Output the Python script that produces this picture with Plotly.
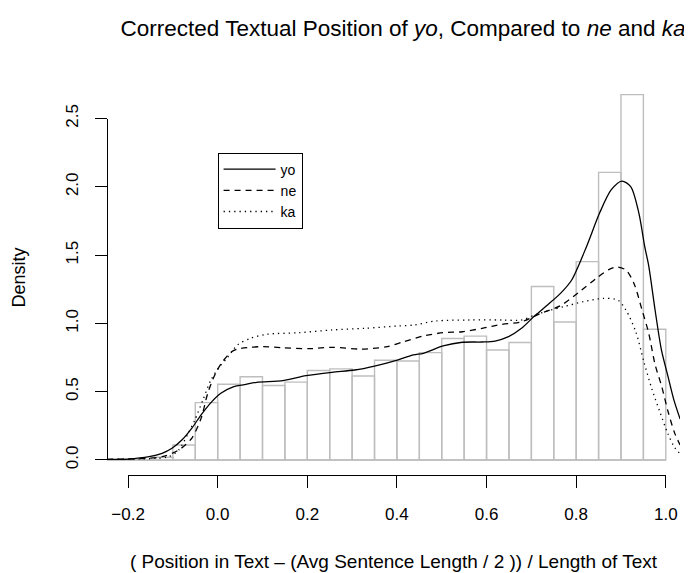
import plotly.graph_objects as go

# ---- data ----
hist_edges = [-0.25, -0.2, -0.15, -0.1, -0.05, 0.0, 0.05, 0.1, 0.15, 0.2, 0.25, 0.3, 0.35,
              0.4, 0.45, 0.5, 0.55, 0.6, 0.65, 0.7, 0.75, 0.8, 0.85, 0.9, 0.95, 1.0]
hist_density = [0.0, 0.0, 0.02, 0.11, 0.42, 0.555, 0.61, 0.545, 0.57, 0.655, 0.667, 0.615, 0.73,
                0.725, 0.786, 0.89, 0.907, 0.805, 0.86, 1.27, 1.01, 1.452, 2.106, 2.675, 0.957]

yo_x = [-0.248, -0.2, -0.153, -0.124, -0.102, -0.08, -0.058, -0.037, -0.015, 0.007, 0.036, 0.06,
        0.087, 0.146, 0.197, 0.255, 0.306, 0.35, 0.401, 0.437, 0.459, 0.503, 0.546, 0.59, 0.619,
        0.649, 0.678, 0.707, 0.736, 0.765, 0.79, 0.823, 0.852, 0.878, 0.902, 0.922, 0.94, 0.953,
        0.962, 0.976, 0.99, 1.005, 1.018, 1.032]
yo_y = [0.005, 0.007, 0.024, 0.049, 0.086, 0.146, 0.232, 0.33, 0.42, 0.488, 0.537, 0.552,
        0.569, 0.581, 0.617, 0.642, 0.659, 0.688, 0.732, 0.769, 0.781, 0.835, 0.862, 0.864, 0.871,
        0.903, 0.964, 1.054, 1.135, 1.22, 1.318, 1.562, 1.806, 1.977, 2.042, 2.0, 1.806, 1.562,
        1.42, 1.1, 0.81, 0.61, 0.44, 0.3]

ne_x = [-0.248, -0.175, -0.124, -0.087, -0.058, -0.037, -0.022, -0.004, 0.011, 0.03, 0.044,
        0.073, 0.102, 0.146, 0.204, 0.255, 0.321, 0.379, 0.415, 0.459, 0.503, 0.546, 0.59, 0.634,
        0.678, 0.721, 0.765, 0.805, 0.845, 0.874, 0.892, 0.911, 0.929, 0.947, 0.962, 0.976, 0.991,
        1.005, 1.02, 1.032]
ne_y = [0.005, 0.01, 0.024, 0.073, 0.159, 0.305, 0.49, 0.64, 0.72, 0.79, 0.812,
        0.825, 0.83, 0.822, 0.815, 0.825, 0.812, 0.83, 0.866, 0.908, 0.932, 0.939, 0.964, 0.993,
        1.012, 1.074, 1.13, 1.225, 1.33, 1.396, 1.413, 1.391, 1.293, 1.098, 0.927, 0.7, 0.537,
        0.355, 0.195, 0.11]

ka_x = [-0.248, -0.175, -0.138, -0.109, -0.087, -0.066, -0.051, -0.033, -0.015, 0.004, 0.022,
        0.044, 0.073, 0.109, 0.182, 0.255, 0.328, 0.401, 0.437, 0.488, 0.561, 0.634, 0.678, 0.707,
        0.743, 0.772, 0.816, 0.86, 0.893, 0.911, 0.933, 0.951, 0.969, 0.987, 1.005, 1.02, 1.032]
ka_y = [0.005, 0.007, 0.012, 0.024, 0.073, 0.195, 0.293, 0.439, 0.586, 0.683, 0.75,
        0.842, 0.891, 0.92, 0.932, 0.952, 0.964, 0.981, 0.988, 1.018, 1.025, 1.025, 1.025, 1.061,
        1.098, 1.122, 1.159, 1.183, 1.171, 1.098, 0.94, 0.72, 0.52, 0.35, 0.19, 0.09, 0.045]

x_ticks = [-0.2, 0.0, 0.2, 0.4, 0.6, 0.8, 1.0]
y_ticks = [0.0, 0.5, 1.0, 1.5, 2.0, 2.5]

title_text = ("Corrected Textual Position of <i>yo</i>, Compared to <i>ne</i> and <i>ka</i>")
x_title = "( Position in Text \u2013 (Avg Sentence Length / 2 )) / Length of Text"
y_title = "Density"

# ---- view geometry (the page body adds an 8px offset) ----
W, H = 684, 565
x_range = [-0.247, 1.0317]
y_range = [-0.1098, 2.782]
FONT = "Liberation Sans, Arial, Helvetica, sans-serif"


def frac(v, r):
    return (v - r[0]) / (r[1] - r[0])


centers = [(a + b) / 2 for a, b in zip(hist_edges[:-1], hist_edges[1:])]
widths = [b - a for a, b in zip(hist_edges[:-1], hist_edges[1:])]

fig = go.Figure()

fig.add_trace(go.Bar(
    x=centers, y=hist_density, width=widths,
    marker=dict(color="rgba(0,0,0,0)", line=dict(color="#BEBEBE", width=1.4)),
    showlegend=False, hoverinfo="skip"))
fig.add_trace(go.Scatter(
    x=hist_edges, y=[0] * len(hist_edges), mode="lines",
    line=dict(color="#BEBEBE", width=1.4), showlegend=False, hoverinfo="skip"))

line_w = 1.3
fig.add_trace(go.Scatter(x=yo_x, y=yo_y, mode="lines", name="yo",
                         line=dict(color="black", width=line_w, shape="spline", smoothing=0.8)))
fig.add_trace(go.Scatter(x=ne_x, y=ne_y, mode="lines", name="ne",
                         line=dict(color="black", width=line_w, shape="spline", smoothing=0.8,
                                   dash="6px,5px")))
fig.add_trace(go.Scatter(x=ka_x, y=ka_y, mode="lines", name="ka",
                         line=dict(color="black", width=line_w, shape="spline", smoothing=0.8,
                                   dash="1.3px,4px")))

# invisible trace that carries the R-style axes
fig.add_trace(go.Scatter(x=[x_ticks[0], x_ticks[-1]], y=[y_ticks[0], y_ticks[-1]],
                         xaxis="x2", yaxis="y2", mode="markers",
                         marker=dict(opacity=0), showlegend=False, hoverinfo="skip"))

fig.update_layout(
    width=W, height=H,
    margin=dict(l=99, r=0, t=72, b=98, pad=0),
    paper_bgcolor="white", plot_bgcolor="rgba(0,0,0,0)",
    font=dict(family=FONT, color="black", size=17),
    title=dict(text=title_text, x=395 / W, xanchor="center", xref="container",
               y=1 - 20 / H, yanchor="middle", yref="container",
               font=dict(size=22.5, family=FONT, color="black")),
    showlegend=True,
    legend=dict(x=0.193, y=(467 - 182.5) / 395, xanchor="left", yanchor="middle",
                bgcolor="white", bordercolor="black", borderwidth=1,
                font=dict(size=14, family=FONT, color="black"),
                itemwidth=52, tracegroupgap=0),
    xaxis=dict(range=x_range, domain=[0, 1], showgrid=False, zeroline=False, showline=False,
               ticks="", showticklabels=False, fixedrange=True,
               title=dict(text=x_title, standoff=79, font=dict(size=19))),
    yaxis=dict(range=y_range, domain=[0, 1], showgrid=False, zeroline=False, showline=False,
               ticks="", showticklabels=False, fixedrange=True,
               title=dict(text=y_title, standoff=75, font=dict(size=18))),
    xaxis2=dict(range=[x_ticks[0], x_ticks[-1]],
                domain=[frac(x_ticks[0], x_range), frac(x_ticks[-1], x_range)],
                anchor="free", position=0, showline=True, linecolor="black", linewidth=1,
                ticks="outside", ticklen=12, tickwidth=1, tickcolor="black",
                tickvals=x_ticks, tickformat=".1f", showgrid=False, zeroline=False,
                ticklabelstandoff=12, tickfont=dict(size=17), fixedrange=True),
    yaxis2=dict(range=[y_ticks[0], y_ticks[-1]],
                domain=[frac(y_ticks[0], y_range), frac(y_ticks[-1], y_range)],
                anchor="free", position=0, showline=True, linecolor="black", linewidth=1,
                ticks="outside", ticklen=12, tickwidth=1, tickcolor="black",
                tickvals=y_ticks, tickformat=".1f", tickangle=-90, showgrid=False,
                zeroline=False, ticklabelstandoff=10, tickfont=dict(size=17), fixedrange=True),
)

fig.write_html("out.html")
